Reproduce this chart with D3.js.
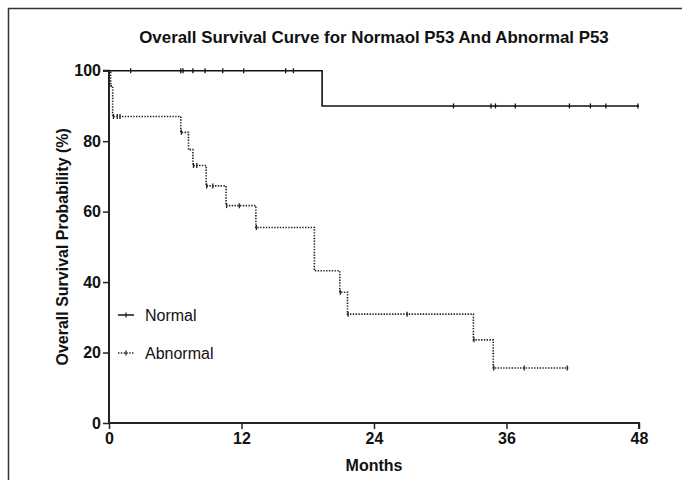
<!DOCTYPE html>
<html><head><meta charset="utf-8">
<script src="https://cdn.jsdelivr.net/npm/d3@7"></script>
<style>body{margin:0;background:#fff}text{font-family:"Liberation Sans",Arial,sans-serif;font-weight:bold;fill:#111}</style>
</head><body><svg id="c" width="682" height="480"></svg>
<script>
const title = "Overall Survival Curve for Normaol P53 And Abnormal P53";
const xLabel = "Months";
const yLabel = "Overall Survival Probability (%)";
const xTicks = [0, 12, 24, 36, 48];
const yTicks = [0, 20, 40, 60, 80, 100];
const seriesNames = ["Normal", "Abnormal"];
// Normal P53 KM steps
const normalTimes = [0, 19.3];
const normalSurv = [100, 90];
const normalEnd = 48;
const normalCensor = [1.96, 6.5, 6.7, 7.6, 8.7, 10.3, 12.2, 16.0, 16.7, 31.2, 34.6, 35.0, 36.8, 41.7, 43.6, 45.0, 47.9];
// Abnormal P53 KM steps
const abTimes = [0, 0.15, 0.33, 6.5, 7.2, 7.6, 8.8, 10.6, 13.3, 18.6, 20.9, 21.6, 33.0, 34.8];
const abSurv = [100, 95.7, 87.0, 82.5, 77.6, 73.1, 67.3, 61.7, 55.5, 43.2, 37.1, 30.9, 23.6, 15.6];
const abEnd = 41.6;
const abCensor = [0.4, 0.75, 1.0, 6.55, 7.65, 7.95, 8.85, 9.4, 10.65, 11.8, 13.35, 20.95, 21.65, 27.0, 33.05, 34.85, 37.6, 41.5];

const svg = d3.select("#c");
const x = d3.scaleLinear().domain([0, 48]).range([109, 639]);
const y = d3.scaleLinear().domain([0, 100]).range([423, 70.7]);

// frame
svg.append("path").attr("d", "M8.5,480V8.5H682").attr("fill", "none").attr("stroke", "#333").attr("stroke-width", 1.5);

// title
const t = svg.append("text").attr("x", 374).attr("y", 43).attr("text-anchor", "middle").style("font-size", "16px").text(title);
const tw = t.node().getComputedTextLength();
t.style("font-size", (16 * 470 / tw).toFixed(2) + "px");

// axes
const xAxis = svg.append("g").attr("transform", `translate(0,${y(0)})`)
  .call(d3.axisBottom(x).tickValues(xTicks).tickSize(6).tickPadding(4).tickFormat(d3.format("d")));
const yAxis = svg.append("g").attr("transform", `translate(${x(0)},0)`)
  .call(d3.axisLeft(y).tickValues(yTicks).tickSize(6).tickPadding(2).tickFormat(d3.format("d")));
[xAxis, yAxis].forEach(g => {
  g.select(".domain").attr("stroke", "#222").attr("stroke-width", 2);
  g.selectAll(".tick line").attr("stroke", "#222").attr("stroke-width", 1.5);
  g.selectAll("text").style("font-size", "16px").style("font-family", '"Liberation Sans",Arial,sans-serif').attr("fill", "#111");
});
xAxis.select(".domain").attr("d", `M${x(0)},0H${x(48)}V6`);
yAxis.select(".domain").attr("d", `M0,${y(0)}V${y(100)}H-6`);

svg.append("text").attr("x", 374).attr("y", 471).attr("text-anchor", "middle").style("font-size", "16px").text(xLabel);
svg.append("text").attr("transform", `translate(68,${(y(0) + y(100)) / 2}) rotate(-90)`).attr("text-anchor", "middle").style("font-size", "16px").text(yLabel);

function kmPoints(times, surv, end) {
  const p = times.map((d, i) => [d, surv[i]]);
  p.push([end, surv[surv.length - 1]]);
  return p;
}
function survAt(times, surv, t) {
  let s = surv[0];
  for (let i = 0; i < times.length; i++) if (times[i] <= t) s = surv[i];
  return s;
}
const line = d3.line().x(d => x(d[0])).y(d => y(d[1])).curve(d3.curveStepAfter);

// normal
svg.append("path").attr("d", line(kmPoints(normalTimes, normalSurv, normalEnd)))
  .attr("fill", "none").attr("stroke", "#111").attr("stroke-width", 1.6);
svg.append("g").selectAll("line").data(normalCensor).join("line")
  .attr("x1", d => x(d)).attr("x2", d => x(d))
  .attr("y1", d => y(survAt(normalTimes, normalSurv, d)) - 2.5)
  .attr("y2", d => y(survAt(normalTimes, normalSurv, d)) + 2.5)
  .attr("stroke", "#111").attr("stroke-width", 1.3);

// abnormal
svg.append("path").attr("d", line(kmPoints(abTimes, abSurv, abEnd)))
  .attr("fill", "none").attr("stroke", "#222").attr("stroke-width", 1.6).attr("stroke-dasharray", "1.4,1.4");
svg.append("g").selectAll("line").data(abCensor).join("line")
  .attr("x1", d => x(d)).attr("x2", d => x(d))
  .attr("y1", d => y(survAt(abTimes, abSurv, d)) - 2.5)
  .attr("y2", d => y(survAt(abTimes, abSurv, d)) + 2.5)
  .attr("stroke", "#222").attr("stroke-width", 1.3);

// legend
const leg = svg.append("g");
const legY = [315, 353];
seriesNames.forEach((name, i) => {
  const ly = legY[i];
  leg.append("line").attr("x1", 118).attr("x2", 134).attr("y1", ly).attr("y2", ly)
    .attr("stroke", "#222").attr("stroke-width", 1.6).attr("stroke-dasharray", i ? "1.4,1.4" : null);
  leg.append("line").attr("x1", 126).attr("x2", 126).attr("y1", ly - 2.5).attr("y2", ly + 2.5)
    .attr("stroke", "#222").attr("stroke-width", 1.3);
  leg.append("text").attr("x", 145).attr("y", ly + 6).style("font-size", "16px").style("font-weight", "normal").text(name);
});
</script></body></html>
